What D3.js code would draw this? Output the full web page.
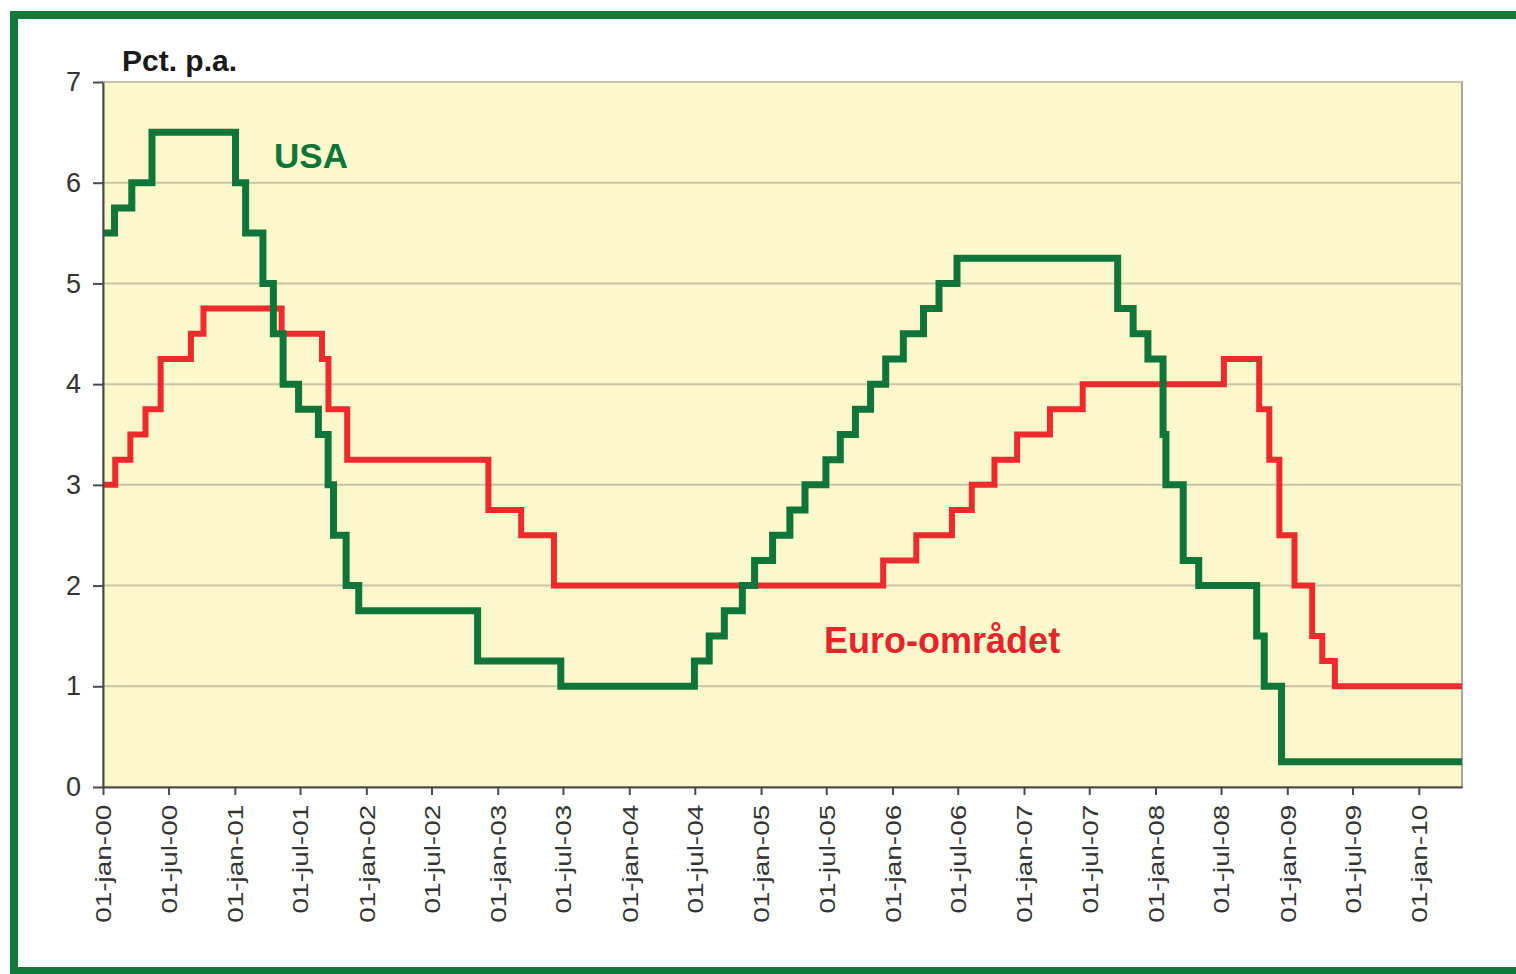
<!DOCTYPE html>
<html>
<head>
<meta charset="utf-8">
<script src="https://cdn.jsdelivr.net/npm/d3@7"></script>
<style>
  body { margin: 0; background: #fff; }
  svg { display: block; font-family: "Liberation Sans", Arial, sans-serif; }
  .grid line { stroke: #c9c3a6; stroke-width: 2; }
  .axis path, .axis line { stroke: #4a4a4a; stroke-width: 2; }
  .axis text { fill: #333; }
  .line { fill: none; stroke-linejoin: miter; }
</style>
</head>
<body>
<svg id="chart" width="1516" height="974"></svg>
<script>
// US Fed funds target rate, change dates
var usaDates = ["2000-01-01", "2000-02-02", "2000-03-21", "2000-05-16",
  "2001-01-03", "2001-01-31", "2001-03-20", "2001-04-18", "2001-05-15", "2001-06-27",
  "2001-08-21", "2001-09-17", "2001-10-02", "2001-11-06", "2001-12-11",
  "2002-11-06", "2003-06-25",
  "2004-06-30", "2004-08-10", "2004-09-21", "2004-11-10", "2004-12-14",
  "2005-02-02", "2005-03-22", "2005-05-03", "2005-06-30", "2005-08-09", "2005-09-20",
  "2005-11-01", "2005-12-13",
  "2006-01-31", "2006-03-28", "2006-05-10", "2006-06-29",
  "2007-09-18", "2007-10-31", "2007-12-11",
  "2008-01-22", "2008-01-30", "2008-03-18", "2008-04-30", "2008-10-08", "2008-10-29",
  "2008-12-16"];
var usaRates = [5.5, 5.75, 6.0, 6.5,
  6.0, 5.5, 5.0, 4.5, 4.0, 3.75,
  3.5, 3.0, 2.5, 2.0, 1.75,
  1.25, 1.0,
  1.25, 1.5, 1.75, 2.0, 2.25,
  2.5, 2.75, 3.0, 3.25, 3.5, 3.75,
  4.0, 4.25,
  4.5, 4.75, 5.0, 5.25,
  4.75, 4.5, 4.25,
  3.5, 3.0, 2.25, 2.0, 1.5, 1.0,
  0.25];

// ECB main refinancing rate, change dates
var euroDates = ["2000-01-01", "2000-02-04", "2000-03-17", "2000-04-28", "2000-06-09",
  "2000-09-01", "2000-10-06",
  "2001-05-11", "2001-08-31", "2001-09-18", "2001-11-09",
  "2002-12-06", "2003-03-07", "2003-06-06",
  "2005-12-06", "2006-03-08", "2006-06-15", "2006-08-09", "2006-10-11", "2006-12-13",
  "2007-03-14", "2007-06-13",
  "2008-07-09", "2008-10-15", "2008-11-12", "2008-12-10",
  "2009-01-21", "2009-03-11", "2009-04-08", "2009-05-13"];
var euroRates = [3.0, 3.25, 3.5, 3.75, 4.25,
  4.5, 4.75,
  4.5, 4.25, 3.75, 3.25,
  2.75, 2.5, 2.0,
  2.25, 2.5, 2.75, 3.0, 3.25, 3.5,
  3.75, 4.0,
  4.25, 3.75, 3.25, 2.5,
  2.0, 1.5, 1.25, 1.0];

var startDate = "2000-01-01", endDate = "2010-05-01";
var yTicks = [0, 1, 2, 3, 4, 5, 6, 7];
var monthNames = ["jan", "feb", "mar", "apr", "maj", "jun", "jul", "aug", "sep", "okt", "nov", "dec"];

var parse = d3.timeParse("%Y-%m-%d");

var svg = d3.select("#chart");
var margin = { top: 82, right: 54, bottom: 187, left: 103 },
  width = +svg.attr("width") - margin.left - margin.right,
  height = +svg.attr("height") - margin.top - margin.bottom;

// green outer frame
svg.append("rect")
  .attr("x", 14).attr("y", 15)
  .attr("width", 1530).attr("height", 956)
  .attr("fill", "none")
  .attr("stroke", "#117a3b")
  .attr("stroke-width", 8);

var g = svg.append("g")
  .attr("transform", "translate(" + margin.left + "," + margin.top + ")");

var x = d3.scaleTime().domain([parse(startDate), parse(endDate)]).range([0, width]),
  y = d3.scaleLinear().domain([0, 7]).range([height, 0]);

// plot background
g.append("rect")
  .attr("width", width).attr("height", height)
  .attr("fill", "#fbf8cb")
  .attr("stroke", "#aaa79a")
  .attr("stroke-width", 2);

g.append("g")
  .attr("class", "grid")
  .selectAll("line")
  .data(yTicks.filter(function (d) { return d > 0; }))
  .enter().append("line")
  .attr("x1", 0).attr("x2", width)
  .attr("y1", function (d) { return y(d); })
  .attr("y2", function (d) { return y(d); });

// series
function series(dates, rates) {
  var pts = dates.map(function (d, i) { return { date: parse(d), value: rates[i] }; });
  pts.push({ date: parse(endDate), value: rates[rates.length - 1] });
  return pts;
}

var line = d3.line()
  .curve(d3.curveStepAfter)
  .x(function (d) { return x(d.date); })
  .y(function (d) { return y(d.value); });

g.append("path")
  .attr("class", "line")
  .attr("d", line(series(euroDates, euroRates)))
  .attr("stroke", "#ee2a2c")
  .attr("stroke-width", 6);

g.append("path")
  .attr("class", "line")
  .attr("d", line(series(usaDates, usaRates)))
  .attr("stroke", "#107538")
  .attr("stroke-width", 7);

// axes
var yAxis = g.append("g")
  .attr("class", "axis")
  .call(d3.axisLeft(y).tickValues(yTicks).tickFormat(d3.format("d"))
    .tickSize(10).tickPadding(12).tickSizeOuter(0));
yAxis.selectAll("text").style("font-size", "27px");

var fmt = function (d) {
  return "01-" + monthNames[d.getMonth()] + "-" + d3.timeFormat("%y")(d);
};

var xAxis = g.append("g")
  .attr("class", "axis")
  .attr("transform", "translate(0," + height + ")")
  .call(d3.axisBottom(x)
    .ticks(d3.timeMonth.every(6))
    .tickFormat(fmt)
    .tickSize(8)
    .tickSizeOuter(0));
xAxis.selectAll("text")
  .style("font-size", "22px")
  .attr("text-anchor", "end")
  .attr("transform", "rotate(-90) scale(1.27,1)")
  .attr("x", -14)
  .attr("y", 0)
  .attr("dy", "0.36em");

// labels
svg.append("text")
  .attr("x", 122).attr("y", 71)
  .attr("font-weight", "bold")
  .attr("font-size", "30px")
  .attr("fill", "#1a1a1a")
  .text("Pct. p.a.");

g.append("text")
  .attr("x", x(parse("2001-04-20")))
  .attr("y", y(6.15))
  .attr("font-weight", "bold")
  .attr("font-size", "35px")
  .attr("fill", "#107538")
  .text("USA");

g.append("text")
  .attr("x", x(parse("2005-06-25")))
  .attr("y", y(1.33))
  .attr("font-weight", "bold")
  .attr("font-size", "36px")
  .attr("fill", "#e5242c")
  .text("Euro-området");
</script>
</body>
</html>
